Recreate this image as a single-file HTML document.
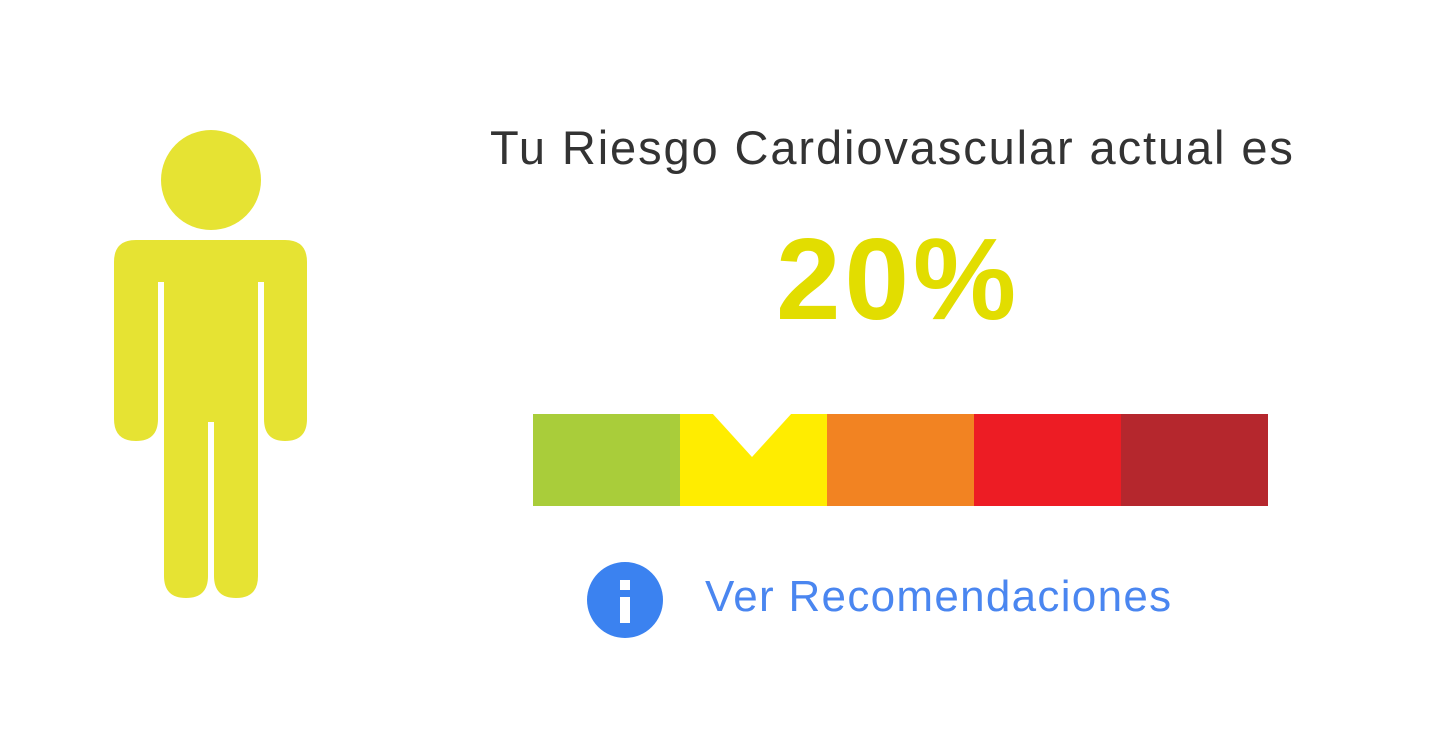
<!DOCTYPE html>
<html><head><meta charset="utf-8"><style>
html,body{margin:0;padding:0;background:#fff;}
body{width:1444px;height:752px;position:relative;overflow:hidden;font-family:"Liberation Sans",sans-serif;}
.t{position:absolute;white-space:nowrap;}
</style></head><body>
<svg width="1444" height="752" style="position:absolute;left:0;top:0">
<g fill="#e6e333">
<circle cx="211" cy="180" r="50"/>
<path d="M136 240 H285 Q307 240 307 262 V419 Q307 441 285 441 Q264 441 264 419 V282 H258 V576 Q258 598 236 598 Q214 598 214 576 V422 H208 V576 Q208 598 186 598 Q164 598 164 576 V282 H158 V419 Q158 441 136 441 Q114 441 114 419 V262 Q114 240 136 240 Z"/>
</g>
<g>
<rect x="533" y="414" width="148" height="92" fill="#a9cd3a"/>
<rect x="680" y="414" width="148" height="92" fill="#ffed00"/>
<rect x="827" y="414" width="148" height="92" fill="#f28322"/>
<rect x="974" y="414" width="148" height="92" fill="#ed1c24"/>
<rect x="1121" y="414" width="147" height="92" fill="#b5272d"/>
<polygon points="712,413 792,413 752,457" fill="#fff"/>
</g>
<g>
<circle cx="625" cy="600" r="38" fill="#3b82f0"/>
<rect x="620" y="597" width="10" height="26" fill="#fff"/>
<rect x="620" y="580" width="10" height="10" fill="#fff"/>
</g>
</svg>
<div class="t" style="left:490px;top:120px;font-size:47px;letter-spacing:1.9px;color:#333">Tu Riesgo Cardiovascular actual es</div>
<div class="t" style="left:776px;top:212px;font-size:116px;letter-spacing:4px;font-weight:bold;color:#e2dd00">20%</div>
<div class="t" style="left:705px;top:572px;font-size:44px;letter-spacing:1.3px;color:#4a86f0">Ver Recomendaciones</div>
</body></html>
